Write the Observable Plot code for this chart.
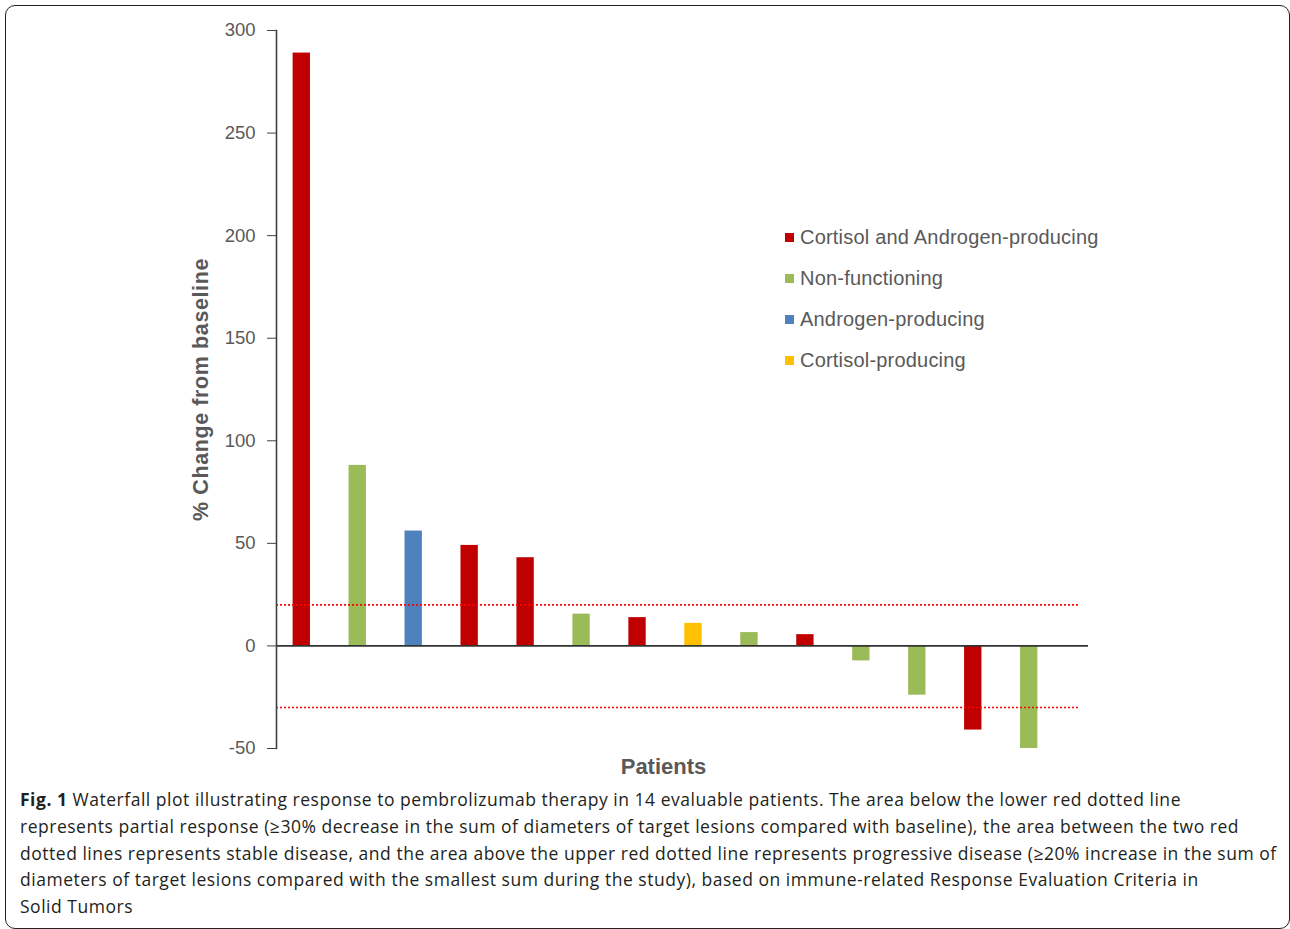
<!DOCTYPE html>
<html>
<head>
<meta charset="utf-8">
<script src="https://cdn.jsdelivr.net/npm/d3@7"></script>
<script src="https://cdn.jsdelivr.net/npm/@observablehq/plot@0.6"></script>
<style>
  html, body { margin: 0; padding: 0; background: #fff; }
  #wrap { position: relative; width: 1290px; height: 929px; overflow: hidden; }
  #border { position: absolute; left: 5px; top: 5px; border: 1px solid #222; border-radius: 10px; box-sizing: border-box; width: 1285px; height: 924px; }
  #chart { position: absolute; left: 0; top: 0; }
  #legend { position: absolute; left: 785px; top: 224px; font-family: "Liberation Sans", Arial, sans-serif; font-size: 20px; letter-spacing: 0.2px; color: #595959; }
  #legend .item { height: 41px; display: flex; align-items: center; }
  #legend .sw { width: 9px; height: 9px; margin-right: 6px; margin-top: -14px; }
  #legend .item span.t { margin-top: -14px; }
  #caption { position: absolute; left: 20px; top: 786px; width: 1260px; font-family: "Open Sans", sans-serif; font-size: 17.5px; letter-spacing: 0.52px; line-height: 26.8px; color: #231f20; white-space: nowrap; }
  g[aria-label="y-axis tick label"] text { fill: #595959; }
  g[aria-label="y-axis tick"] path { stroke: #404040; }
  g[aria-label="y-axis label"] text { font-weight: bold; font-size: 21.5px; letter-spacing: 0.6px; fill: #595959; }
</style>
</head>
<body>
<div id="wrap">
  <div id="chart"></div>
  <div id="legend"></div>
  <div id="border"></div>
  <div id="caption"></div>
</div>
<script>
// ---- data ----
const patients = ["P1","P2","P3","P4","P5","P6","P7","P8","P9","P10","P11","P12","P13","P14"];
const changes = [289, 88, 56, 49, 43, 15.5, 13.8, 11, 6.5, 5.5, -7.3, -24, -41, -50];
const tumorTypes = [
  "Cortisol and Androgen-producing", "Non-functioning", "Androgen-producing",
  "Cortisol and Androgen-producing", "Cortisol and Androgen-producing", "Non-functioning",
  "Cortisol and Androgen-producing", "Cortisol-producing", "Non-functioning",
  "Cortisol and Androgen-producing", "Non-functioning", "Non-functioning",
  "Cortisol and Androgen-producing", "Non-functioning"
];
const typeNames = ["Cortisol and Androgen-producing", "Non-functioning", "Androgen-producing", "Cortisol-producing"];
const typeColors = ["#C00000", "#9BBB59", "#4F81BD", "#FFC000"];
const thresholds = [20, -30];
const yTicks = [-50, 0, 50, 100, 150, 200, 250, 300];
const yLabel = "% Change from baseline";
const xLabel = "Patients";

const data = patients.map((p, i) => ({patient: p, change: changes[i], type: tumorTypes[i]}));

const chart = Plot.plot({
  width: 1290,
  height: 790,
  marginTop: 30,
  marginBottom: 42,
  marginLeft: 276,
  marginRight: 202,
  style: {fontFamily: "Liberation Sans, Arial, sans-serif", fontSize: "18.5px", background: "transparent"},
  x: {domain: patients, range: [254, 1076], padding: 0.69, round: false, axis: null},
  y: {domain: [-50, 300], axis: null},
  color: {domain: typeNames, range: typeColors},
  marks: [
    Plot.barY(data, {x: "patient", y: "change", fill: "type"}),
    Plot.ruleY(thresholds, {stroke: "#FF0000", strokeWidth: 1.6, strokeDasharray: "2,2", insetRight: 10}),
    Plot.ruleY([0], {stroke: "#333", strokeWidth: 1.8}),
    Plot.axisY({ticks: yTicks, tickFormat: d => String(d), tickSize: 9, tickPadding: 12, label: yLabel, labelAnchor: "center", labelArrow: "none", labelOffset: 84}),
    Plot.frame({anchor: "left", stroke: "#404040", strokeWidth: 1.6}),
    Plot.text([xLabel], {frameAnchor: "bottom", dx: -19, dy: 25, fontWeight: "bold", fontSize: 22, fill: "#595959"})
  ]
});
document.getElementById("chart").appendChild(chart);

// legend
const legend = document.getElementById("legend");
typeNames.forEach((name, i) => {
  const item = document.createElement("div");
  item.className = "item";
  const sw = document.createElement("span");
  sw.className = "sw";
  sw.style.background = typeColors[i];
  const t = document.createElement("span");
  t.className = "t";
  t.textContent = name;
  item.appendChild(sw);
  item.appendChild(t);
  legend.appendChild(item);
});

// caption
const captionLines = [
  "Waterfall plot illustrating response to pembrolizumab therapy in 14 evaluable patients. The area below the lower red dotted line",
  "represents partial response (\u226530% decrease in the sum of diameters of target lesions compared with baseline), the area between the two red",
  "dotted lines represents stable disease, and the area above the upper red dotted line represents progressive disease (\u226520% increase in the sum of",
  "diameters of target lesions compared with the smallest sum during the study), based on immune-related Response Evaluation Criteria in",
  "Solid Tumors"
];
const cap = document.getElementById("caption");
captionLines.forEach((line, i) => {
  const div = document.createElement("div");
  if (i === 0) {
    const b = document.createElement("b");
    b.textContent = "Fig. 1";
    div.appendChild(b);
    div.appendChild(document.createTextNode(" " + line));
  } else {
    div.textContent = line;
  }
  cap.appendChild(div);
});
</script>
</body>
</html>
